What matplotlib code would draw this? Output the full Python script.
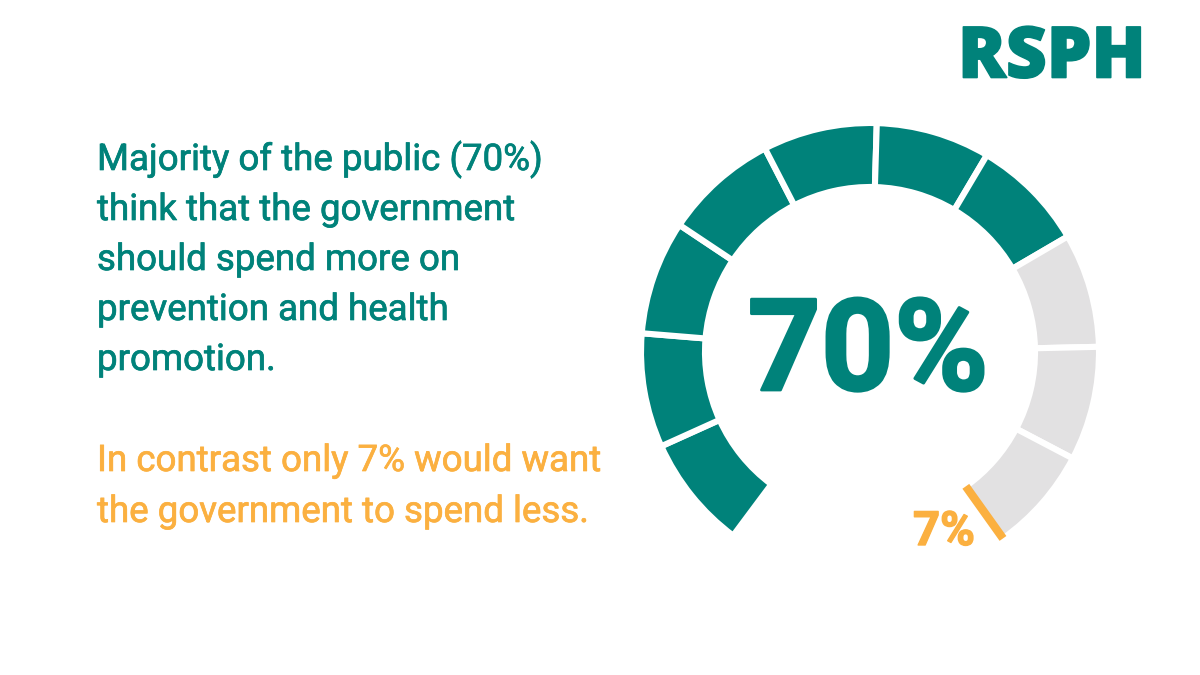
import numpy as np
import matplotlib
matplotlib.use("Agg")
import matplotlib.pyplot as plt
import matplotlib.patheffects as pe
from matplotlib.patches import Wedge

# gauge segments, each one is 10% of the public
segment_values = [10, 10, 10, 10, 10, 10, 10, 10, 10, 10]
segment_groups = ["more"] * 7 + ["neutral"] * 3
less_pct = 7
more_pct = 70

colors = {"more": "#00827a", "neutral": "#e2e1e2"}
TEAL = "#00827a"
ORANGE = "#fbb040"

main_lines = ["Majority of the public (70%)", "think that the government",
              "should spend more on", "prevention and health", "promotion."]
less_lines = ["In contrast only 7% would want", "the government to spend less."]

FONT = ["Roboto", "DejaVu Sans"]

fig = plt.figure(figsize=(12, 6.75), dpi=100)
ax = fig.add_axes([0, 0, 1, 1])
ax.set_xlim(0, 1200)
ax.set_ylim(675, 0)
ax.axis("off")

# ring, y axis is flipped so angles run the other way round
cx, cy = 870, 352
r_out, width = 229, 64
start = -233.3
sweep = 290
end_angle = 54.5  # ring stops at the orange marker
per_value = sweep / sum(segment_values)
ang = start
for val, grp in zip(segment_values, segment_groups):
    ax.add_patch(Wedge((cx, cy), r_out, ang, min(ang + val * per_value, end_angle), width=width,
                       facecolor=colors[grp], edgecolor="white", linewidth=4.4))
    ang += val * per_value

# orange marker at the end of the ring
a = np.radians(end_angle)
ax.plot([cx + 165 * np.cos(a), cx + 229 * np.cos(a)], [cy + 165 * np.sin(a), cy + 229 * np.sin(a)],
        color=ORANGE, lw=6, solid_capstyle="butt")

ax.text(868, 390, f"{more_pct}%", color=TEAL, fontsize=92, fontweight="bold",
        family=FONT, ha="center", va="baseline",
        path_effects=[pe.withStroke(linewidth=2, foreground=TEAL)])
ax.text(944, 545, f"{less_pct}%", color=ORANGE, fontsize=34, fontweight="bold",
        family=FONT, ha="center", va="baseline",
        path_effects=[pe.withStroke(linewidth=1, foreground=ORANGE)])
ax.text(1052, 59, "RSPH", color=TEAL, fontsize=51, fontweight="black",
        family=["Open Sans", "DejaVu Sans"], ha="center", va="center",
        path_effects=[pe.withStroke(linewidth=1.2, foreground=TEAL)])

# body text, thin stroke to get the heavier look of the original
body = [pe.withStroke(linewidth=0.5, foreground=TEAL)]
y = 170
for line in main_lines:
    ax.text(97, y, line, color=TEAL, fontsize=26.4, family=FONT, ha="left", va="baseline",
            path_effects=body)
    y += 50
body = [pe.withStroke(linewidth=0.5, foreground=ORANGE)]
y = 471
for line in less_lines:
    ax.text(97, y, line, color=ORANGE, fontsize=26.4, family=FONT, ha="left", va="baseline",
            path_effects=body)
    y += 51

fig.savefig("out.png", dpi=100, facecolor="white")
